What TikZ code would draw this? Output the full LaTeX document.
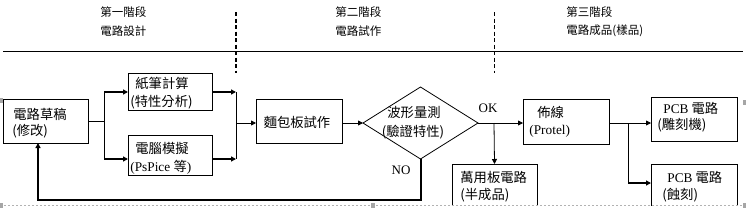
\documentclass[tikz,border=0pt]{standalone}
\usepackage{fontspec}
\setmainfont{Liberation Serif}
\newfontfamily\cjk{Noto Sans CJK TC}
\usetikzlibrary{shapes.geometric,arrows.meta}
\begin{document}
\begin{tikzpicture}[x=1pt,y=-1pt,line width=0.8pt,
  box/.style={draw,rectangle,inner sep=0,outer sep=0},
  tx/.style={inner sep=0,anchor=west,font=\cjk\fontsize{13.3}{16}\selectfont},
  hd/.style={inner sep=0,anchor=west,font=\cjk\fontsize{11.5}{14}\selectfont},
  lt/.style={inner sep=0,font=\rmfamily\fontsize{13}{15}\selectfont},
  arr/.style={-{Triangle[length=5pt,width=5pt]}},
  thk/.style={line width=2.2pt},
  handle/.style={fill=gray!70,draw=none}]
\useasboundingbox (0,0) rectangle (746,209);

% headings
\node[hd] (h1a) at (100,12) {第一階段};
\node[hd] (h1b) at (100,31) {電路設計};
\node[hd] (h2a) at (335,12) {第二階段};
\node[hd] (h2b) at (335,31) {電路試作};
\node[hd] (h3a) at (566,12) {第三階段};
\node[hd] (h3b) at (566,31) {電路成品(樣品)};
\coordinate (hl1) at (3,51);
\coordinate (hl2) at (743,51);
\draw (hl1) -- (hl2);
\coordinate (d1a) at (236,12);
\coordinate (d1b) at (236,73);
\coordinate (d2a) at (494.5,12);
\coordinate (d2b) at (494.5,73);
\draw[line width=2pt,dash pattern=on 4pt off 2.5pt] (d1a) -- (d1b);
\draw[line width=0.8pt,dash pattern=on 4pt off 2.5pt] (d2a) -- (d2b);

\begin{scope}
\clip (-1,-1) rectangle (747,205);
% boxes
\node[box,minimum width=85,minimum height=44] (draft) at (45.5,121) {};
\node[box,minimum width=84,minimum height=37] (calc) at (170,91.5) {};
\node[box,minimum width=84,minimum height=40] (sim) at (170,155) {};
\node[box,minimum width=86,minimum height=44] (bread) at (299,121) {};
\node[draw,diamond,inner sep=0,outer sep=0,minimum width=115,minimum height=72] (dia) at (420.5,123) {};
\node[box,minimum width=85,minimum height=52] (univ) at (494.5,190) {};
\node[box,minimum width=86,minimum height=45] (wire) at (566,121.5) {};
\node[box,minimum width=86,minimum height=44] (pcb1) at (694,119) {};
\node[box,minimum width=86,minimum height=52] (pcb2) at (694,190) {};
\end{scope}

% texts
\node[tx] (t1) at (13,114) {電路草稿};
\node[tx] (t2) at (12,131) {(修改)};
\node[tx] (t3) at (135,83) {紙筆計算};
\node[tx] (t4) at (130,102) {(特性分析)};
\node[tx] (t5) at (135,148) {電腦模擬};
\node[tx] (t6) at (130,167) {{\rmfamily(PsPice }等{\rmfamily)}};
\node[tx,anchor=center] (t7) at (297,122) {麵包板試作};
\node[tx,anchor=center] (t8) at (414,112) {波形量測};
\node[tx,anchor=center] (t9) at (413,132) {(驗證特性)};
\node[tx] (t10) at (460,177) {萬用板電路};
\node[tx] (t11) at (460,195) {(半成品)};
\node[tx] (t12) at (537,112) {佈線};
\node[tx] (t13) at (529,131) {\rmfamily(Protel)};
\node[tx] (t14) at (663,108) {{\rmfamily PCB} 電路};
\node[tx] (t15) at (657,125) {(雕刻機)};
\node[tx] (t16) at (667,177) {{\rmfamily PCB} 電路};
\node[tx] (t17) at (662,195) {(蝕刻)};
\node[lt] (ok) at (488,108) {OK};
\node[lt] (no) at (401,170) {NO};

% connectors stage 1
\coordinate (ja) at (104,121);
\coordinate (jt) at (104,92);
\coordinate (jb) at (104,159);
\coordinate (simin) at (128,159);
\coordinate (ka) at (236,92);
\coordinate (kb) at (236,159);
\coordinate (kc) at (236,123);
\coordinate (simout) at (212,159);
\draw (draft.east |- ja) -- (ja);
\draw (jt) -- (jb);
\draw[thk,arr] (jt) -- (calc.west |- jt);
\draw[thk,arr] (jb) -- (simin);
\draw[thk,arr] (calc.east |- ka) -- (ka);
\draw[thk,arr] (simout) -- (kb);
\draw (ka) -- (kb);
\draw[arr] (kc) -- (bread.west |- kc);
\draw[arr] (bread.east |- dia) -- (dia.west);
\coordinate (jo) at (494,123);
\draw[arr] (dia.east) -- (wire.west |- jo);
\draw[arr] (jo) -- (univ.north);
% feedback
\coordinate (fb1) at (420.5,200);
\coordinate (fb2) at (38,200);
\draw[line width=2pt,arr] (dia.south) -- (fb1) -- (fb2) -- (fb2 |- draft.south);
% stage 3
\coordinate (jp) at (628,123);
\coordinate (jq) at (628,183);
\draw[arr] (wire.east |- jp) -- (pcb1.west |- jp);
\draw (jp) -- (jq);
\draw[thk,arr] (jq) -- (pcb2.west |- jq);

% selection frame artefacts
\coordinate (s1) at (4,205.5);
\coordinate (s2) at (742,205.5);
\draw[gray!60,line width=0.8pt,dash pattern=on 2pt off 2pt] (s1) -- (s2);
\fill[handle] (0,98) rectangle (3,103);
\fill[handle] (0,203) rectangle (3,208);
\fill[handle] (371,203) rectangle (375,208);
\fill[handle] (743,100) rectangle (746,105);
\fill[handle] (743,203) rectangle (746,208);
\end{tikzpicture}
\end{document}
